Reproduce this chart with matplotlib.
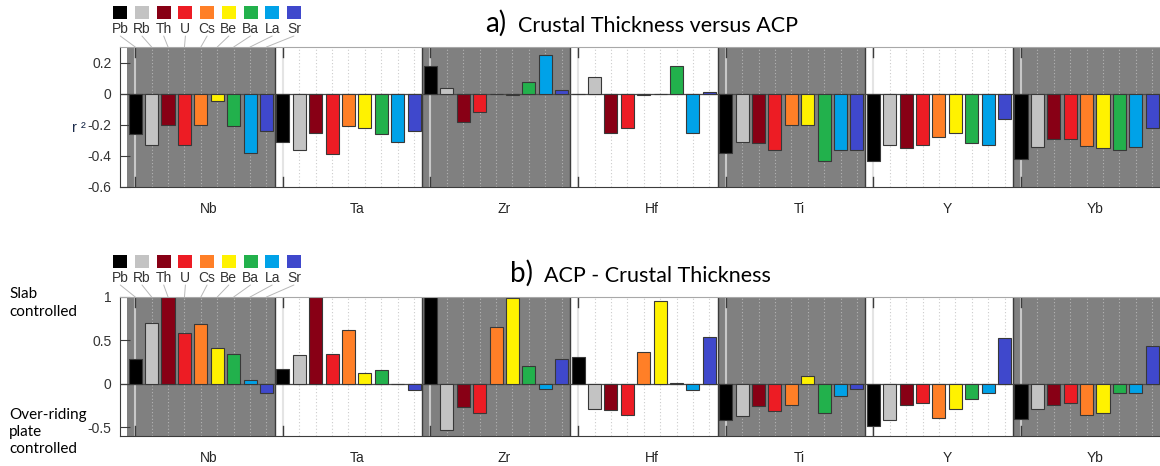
import numpy as np
import matplotlib
matplotlib.use('Agg')
import matplotlib.pyplot as plt
from matplotlib.patches import Rectangle, ConnectionPatch

W, H = 1160, 466

elements = ['Pb', 'Rb', 'Th', 'U', 'Cs', 'Be', 'Ba', 'La', 'Sr']
colors = ['#000000', '#c3c3c3', '#880015', '#ed1c24', '#ff7f27',
          '#fff200', '#22b14c', '#00a2e8', '#3f48cc']
groups = ['Nb', 'Ta', 'Zr', 'Hf', 'Ti', 'Y', 'Yb']

# a) r2, crustal thickness versus ACP (one row per group, one value per element)
r2_vals = [
    [-0.26, -0.33, -0.20, -0.33, -0.20, -0.05, -0.21, -0.38, -0.24],
    [-0.31, -0.36, -0.25, -0.39, -0.21, -0.22, -0.26, -0.31, -0.24],
    [0.18, 0.035, -0.18, -0.12, -0.005, -0.01, 0.075, 0.25, 0.025],
    [-0.003, 0.11, -0.25, -0.22, -0.01, -0.005, 0.18, -0.255, 0.013],
    [-0.38, -0.31, -0.32, -0.36, -0.20, -0.20, -0.43, -0.36, -0.36],
    [-0.43, -0.33, -0.35, -0.33, -0.28, -0.25, -0.32, -0.33, -0.16],
    [-0.42, -0.34, -0.29, -0.29, -0.335, -0.35, -0.36, -0.34, -0.22],
]
# b) ACP - crustal thickness
acp_vals = [
    [0.29, 0.70, 1.0, 0.585, 0.685, 0.415, 0.34, 0.04, -0.10],
    [0.17, 0.33, 1.0, 0.34, 0.62, 0.13, 0.155, 0.0, -0.07],
    [1.0, -0.53, -0.27, -0.34, 0.66, 0.99, 0.21, -0.055, 0.29],
    [0.315, -0.285, -0.30, -0.355, 0.37, 0.955, 0.008, -0.073, 0.535],
    [-0.42, -0.37, -0.255, -0.31, -0.245, 0.085, -0.335, -0.135, -0.055],
    [-0.49, -0.42, -0.24, -0.225, -0.39, -0.29, -0.17, -0.10, 0.53],
    [-0.40, -0.29, -0.24, -0.225, -0.355, -0.33, -0.10, -0.10, 0.44],
]

gray = '#808080'
dark = '#3c3c3c'
tick_font = 'Liberation Sans'
title_font = 'Lato'
nper = len(elements)


def fx(px):
    return px / W


def fy(py):
    return 1 - py / H


fig = plt.figure(figsize=(W / 100, H / 100), dpi=100)
fig.set_facecolor('white')


def panel(top_px, bot_px, vals, ylim, yticks, yticklabels):
    ax = fig.add_axes([fx(120), fy(bot_px), fx(1162) - fx(120), (bot_px - top_px) / H])
    ax.set_xlim(-0.43, 63.1)
    ax.set_ylim(*ylim)
    for g in range(len(groups)):
        x0 = nper * g
        shaded = g % 2 == 0
        if shaded:
            ax.axvspan(x0, x0 + nper, color=gray, lw=0, zorder=0)
        # thin line through the first bar with dark ticks at both ends
        ax.axvline(x0 + 0.5, color='#c8c8c8' if shaded else '#e4e4e4', lw=1.5, zorder=0.5)
        ax.axvline(x0 + 0.5, ymin=0, ymax=0.07, color=dark, lw=1, zorder=0.6)
        ax.axvline(x0 + 0.5, ymin=0.93, ymax=1, color=dark, lw=1, zorder=0.6)
        for k in range(1, nper):
            ax.axvline(x0 + k + 0.5, color='#b4b4b4' if shaded else '#cccccc',
                       lw=0.8, ls=(0, (1, 2)), zorder=0.5)
        if g > 0:
            ax.axvline(x0, color=dark, lw=1, zorder=1)
        ax.bar(x0 + 0.5 + np.arange(nper), vals[g], width=0.8, color=colors,
               edgecolor='#383838', lw=0.8, zorder=2)
    ax.axhline(0, color='#4a4a4a', lw=0.9, zorder=1.5)

    ax.set_yticks(yticks)
    ax.set_yticklabels(yticklabels, fontfamily=tick_font, fontsize=10, color='#333333')
    ax.set_xticks([nper * g + 5 for g in range(len(groups))])
    ax.set_xticklabels(groups, fontfamily=tick_font, fontsize=10, color='#262626')
    ax.tick_params(axis='x', length=0, pad=11)
    ax.tick_params(axis='y', direction='in', length=7, color=dark, pad=6)
    ax.spines['right'].set_visible(False)
    ax.spines['left'].set_color(dark)
    ax.spines['bottom'].set_color(dark)
    ax.spines['top'].set_color('#a8a8a8')
    return ax


def legend(ax, sq_top, lab_y, line_y):
    for i, (el, c) in enumerate(zip(elements, colors)):
        x = 113.3 + 21.7 * i
        fig.add_artist(Rectangle((fx(x), fy(sq_top + 13)), 14 / W, 13 / H,
                                 transform=fig.transFigure, facecolor=c, edgecolor='none'))
        fig.text(fx(x + 7), fy(lab_y), el, ha='center', va='center',
                 fontfamily=tick_font, fontsize=10, color='#333333')
        con = ConnectionPatch(xyA=(fx(x + 7), fy(line_y)), coordsA=fig.transFigure,
                              xyB=(0.5 + i, ax.get_ylim()[1]), coordsB=ax.transData,
                              color='#b8b8b8', lw=0.7)
        fig.add_artist(con)


ax1 = panel(47, 187, r2_vals, (-0.6, 0.3),
            [-0.6, -0.4, -0.2, 0, 0.2], ['-0.6', '-0.4', '-0.2', '0', '0.2'])
ax2 = panel(297, 436, acp_vals, (-0.6, 1.0),
            [-0.5, 0, 0.5, 1], ['-0.5', '0', '0.5', '1'])

legend(ax1, 6, 29, 36)
legend(ax2, 255, 278, 285)

# titles
fig.text(fx(485), fy(32), 'a)', fontfamily=title_font, fontsize=20, color='black', va='baseline')
fig.text(fx(518), fy(32), 'Crustal Thickness versus ACP', fontfamily=title_font,
         fontsize=15.5, color='black', va='baseline')
fig.text(fx(510), fy(282), 'b)', fontfamily=title_font, fontsize=20, color='black', va='baseline')
fig.text(fx(544), fy(282), 'ACP - Crustal Thickness', fontfamily=title_font,
         fontsize=15.5, color='black', va='baseline')

fig.text(fx(72), fy(128), 'r ²', fontfamily=tick_font, fontsize=10.5, color='#1a2a4a',
         ha='left', va='center')
fig.text(fx(9), fy(303), 'Slab\ncontrolled', fontfamily=title_font, fontsize=11,
         ha='left', va='center', linespacing=1.3)
fig.text(fx(9), fy(432), 'Over-riding\nplate\ncontrolled', fontfamily=title_font,
         fontsize=11, ha='left', va='center', linespacing=1.25)

fig.savefig('out.png', dpi=100, facecolor='white')
